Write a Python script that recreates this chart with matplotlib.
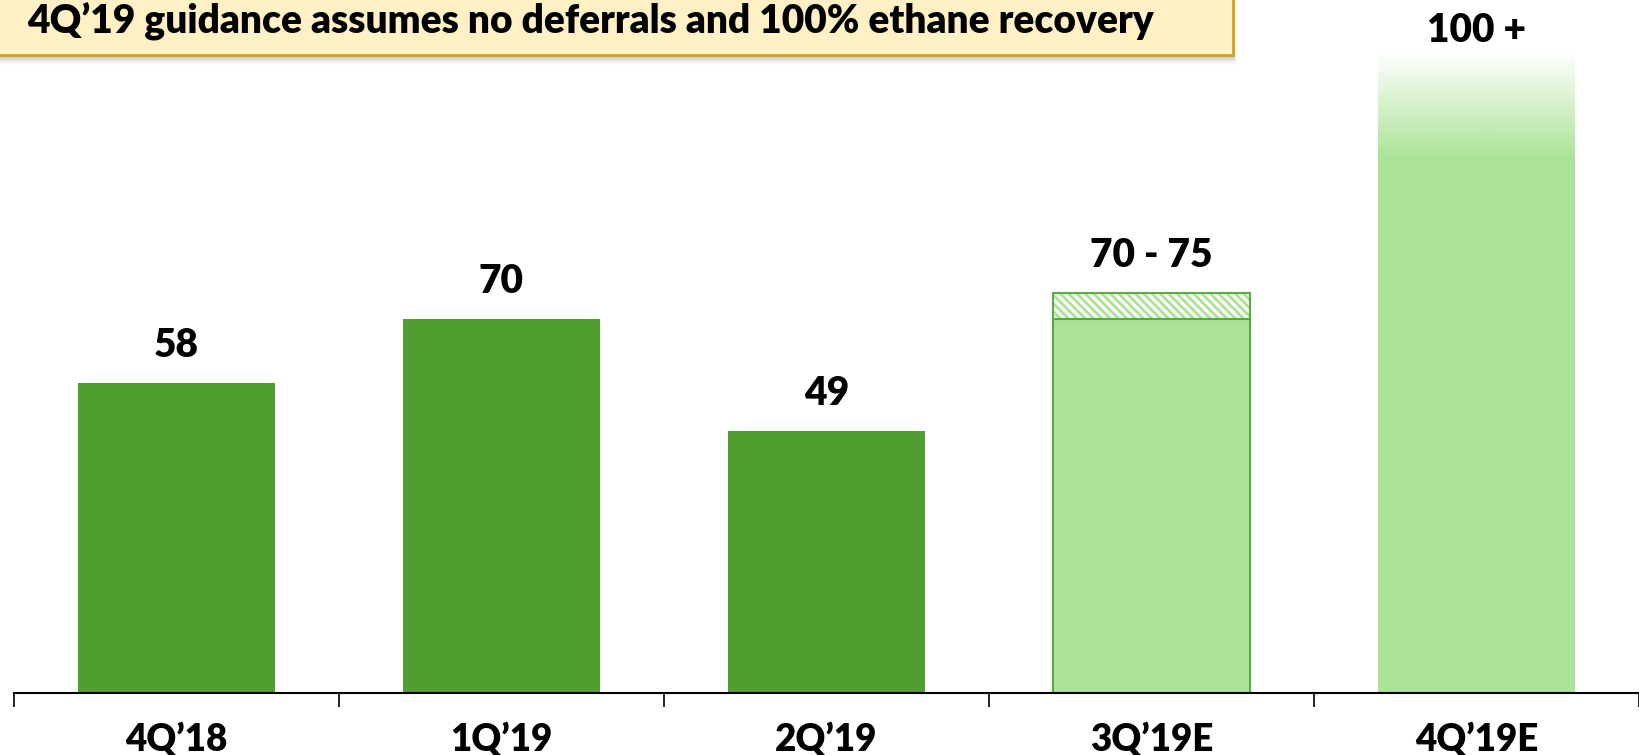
import numpy as np
import matplotlib.pyplot as plt
from matplotlib.patches import Rectangle

plt.rcParams['font.family'] = ['Lato', 'DejaVu Sans']
plt.rcParams['hatch.linewidth'] = 2.0

# datos
quarters = ["4Q\u201918", "1Q\u201919", "2Q\u201919", "3Q\u201919E", "4Q\u201919E"]
actual = [58, 70, 49]
low_3q, high_3q = 70, 75
base_4q, fade_top_4q = 100, 120
labels = ["58", "70", "49", "70 - 75", "100 +"]
title = "4Q\u201919 guidance assumes no deferrals and 100% ethane recovery"

DARK = "#509E2F"
LIGHT = "#ABE396"
EDGE = "#5BAA3D"
FW = "heavy"

W, H = 1639, 755
fig = plt.figure(figsize=(W / 100, H / 100), dpi=100)
ax = fig.add_axes([14 / W, (H - 693) / H, 1 - 14 / W, 693 / H])

x = np.arange(len(quarters))
bw = 0.606

# barras reales
ax.bar(x[:3], actual, width=bw, color=DARK, zorder=2)

# 3Q'19E: rango
ax.bar(x[3], low_3q, width=bw, color=LIGHT, edgecolor=EDGE, linewidth=1.5, zorder=2)
ax.bar(x[3], high_3q - low_3q, bottom=low_3q, width=bw, color="white",
       edgecolor=LIGHT, hatch="\\\\\\\\", linewidth=0, zorder=2)
ax.bar(x[3], high_3q - low_3q, bottom=low_3q, width=bw, color="none",
       edgecolor=EDGE, linewidth=1.5, zorder=3)

# 4Q'19E: barra con degradado
ax.bar(x[4], base_4q, width=bw, color=LIGHT, zorder=2)
rgb = np.array([171, 227, 150]) / 255
n = 200
grad = np.zeros((n, 1, 4))
grad[:, 0, :3] = rgb
grad[:, 0, 3] = np.linspace(1, 0, n)
ax.imshow(grad, extent=(x[4] - bw / 2, x[4] + bw / 2, base_4q, fade_top_4q),
          origin="lower", aspect="auto", interpolation="bilinear", zorder=2)

# etiquetas de valor
tops = actual + [high_3q]
for xi, t, lab in zip(x[:4], tops, labels[:4]):
    ax.text(xi, t + 7, lab, ha="center", va="center", fontsize=28, fontweight=FW)
ax.text(x[4], base_4q + 24, labels[4], ha="center", va="center", fontsize=28, fontweight=FW)

ax.set_xlim(-0.5, -0.5 + (W - 14) / 327.5)
ax.set_ylim(0, 693 / 5.34)

for s in ["top", "right", "left"]:
    ax.spines[s].set_visible(False)
ax.spines["bottom"].set_linewidth(1.5)
ax.set_yticks([])
ax.set_xticks(x)
ax.set_xticklabels(quarters, fontsize=26.5, fontweight=FW)
ax.tick_params(axis="x", which="major", length=0, pad=21)
ax.set_xticks(np.arange(-0.5, 4.6, 1), minor=True)
ax.tick_params(axis="x", which="minor", length=10, width=1.2, color="black")

# caja del titulo
for i, a in enumerate([0.10, 0.08, 0.06, 0.04, 0.02]):
    fig.patches.append(Rectangle((-10 / W, (H - 55 - 2 * (i + 1)) / H), (1243 + i) / W, 80 / H,
                                 transform=fig.transFigure, facecolor="black",
                                 edgecolor="none", alpha=a, zorder=0))
fig.patches.append(Rectangle((-10 / W, (H - 55) / H), 1243 / W, 80 / H,
                             transform=fig.transFigure, facecolor="#FFF0C5",
                             edgecolor="#D4A21C", linewidth=2, zorder=1))
fig.text(27 / W, (H - 22) / H, title, ha="left", va="center",
         fontsize=28, fontweight=FW)

fig.savefig("out.png", dpi=100)
